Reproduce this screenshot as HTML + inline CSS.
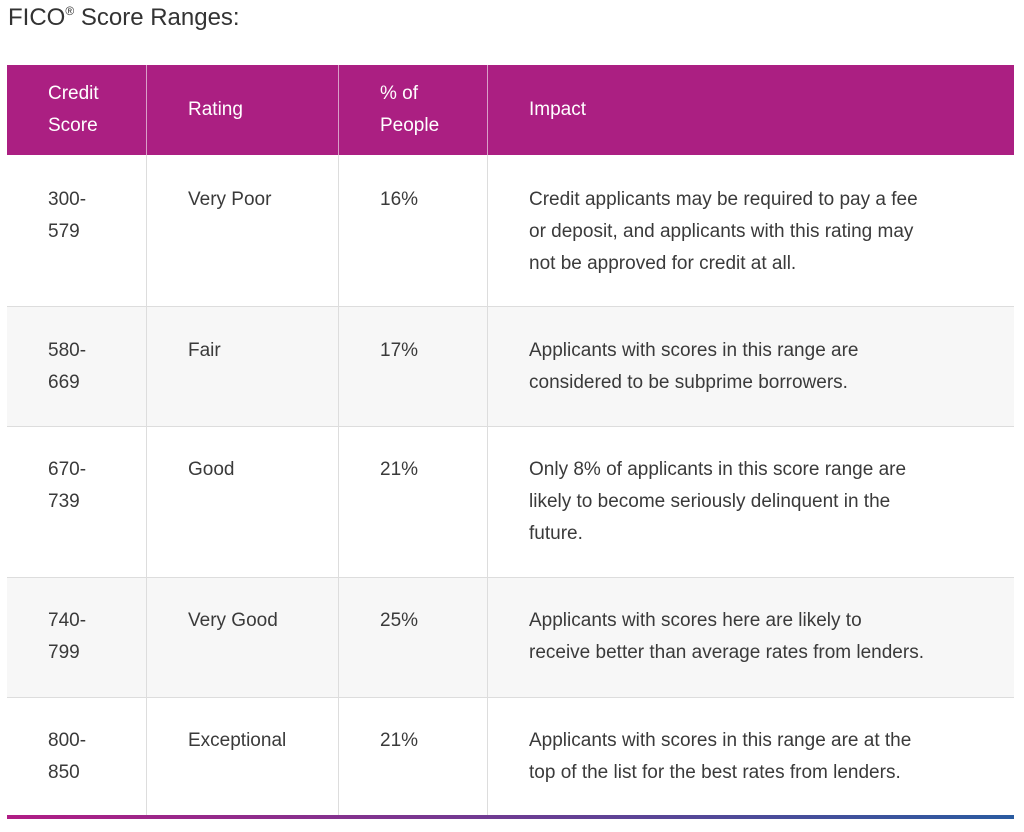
<!DOCTYPE html>
<html><head><meta charset="utf-8"><style>
body{margin:0;width:1024px;height:832px;background:#fff;font-family:"Liberation Sans",sans-serif;color:#3a3a3a;position:relative;overflow:hidden}
.t{position:absolute;left:8px;top:4px;font-size:24px;color:#333}
.t sup{font-size:12px;vertical-align:10px}
.tbl{position:absolute;left:7px;top:65px;width:1007px}
.row{position:absolute;left:0;width:1007px;border-bottom:1px solid #ddd}
.c{position:absolute;top:0;height:100%;box-sizing:border-box;font-size:19px;line-height:32px;white-space:nowrap}
.c+.c{border-left:1px solid #ddd}
.h{background:#ab1f82;color:#fff;border-bottom:none}
.h .c{border-color:#d9a0c8}
.bar{position:absolute;left:7px;top:815px;width:1007px;height:4px;background:linear-gradient(90deg,#b01d85,#2a5ba0)}
</style></head><body>
<div class="t">FICO<sup>®</sup> Score Ranges:</div>
<div class="tbl">
 <div class="row h" style="top:0;height:90px">
  <div class="c" style="left:0;width:139px;padding:13px 0 0 41px">Credit<br>Score</div>
  <div class="c" style="left:139px;width:192px;padding:29px 0 0 41px">Rating</div>
  <div class="c" style="left:331px;width:149px;padding:13px 0 0 41px">% of<br>People</div>
  <div class="c" style="left:480px;width:527px;padding:29px 0 0 41px">Impact</div>
 </div>
 <div class="row" style="top:90px;height:151px;background:#fff">
  <div class="c" style="left:0;width:139px;padding:29px 0 0 41px">300-<br>579</div>
  <div class="c" style="left:139px;width:192px;padding:29px 0 0 41px">Very Poor</div>
  <div class="c" style="left:331px;width:149px;padding:29px 0 0 41px">16%</div>
  <div class="c" style="left:480px;width:527px;padding:29px 0 0 41px">Credit applicants may be required to pay a fee<br>or deposit, and applicants with this rating may<br>not be approved for credit at all.</div>
 </div>
 <div class="row" style="top:242px;height:119px;background:#f7f7f7">
  <div class="c" style="left:0;width:139px;padding:28px 0 0 41px">580-<br>669</div>
  <div class="c" style="left:139px;width:192px;padding:28px 0 0 41px">Fair</div>
  <div class="c" style="left:331px;width:149px;padding:28px 0 0 41px">17%</div>
  <div class="c" style="left:480px;width:527px;padding:28px 0 0 41px">Applicants with scores in this range are<br>considered to be subprime borrowers.</div>
 </div>
 <div class="row" style="top:362px;height:150px;background:#fff">
  <div class="c" style="left:0;width:139px;padding:27px 0 0 41px">670-<br>739</div>
  <div class="c" style="left:139px;width:192px;padding:27px 0 0 41px">Good</div>
  <div class="c" style="left:331px;width:149px;padding:27px 0 0 41px">21%</div>
  <div class="c" style="left:480px;width:527px;padding:27px 0 0 41px">Only 8% of applicants in this score range are<br>likely to become seriously delinquent in the<br>future.</div>
 </div>
 <div class="row" style="top:513px;height:119px;background:#f7f7f7">
  <div class="c" style="left:0;width:139px;padding:27px 0 0 41px">740-<br>799</div>
  <div class="c" style="left:139px;width:192px;padding:27px 0 0 41px">Very Good</div>
  <div class="c" style="left:331px;width:149px;padding:27px 0 0 41px">25%</div>
  <div class="c" style="left:480px;width:527px;padding:27px 0 0 41px">Applicants with scores here are likely to<br>receive better than average rates from lenders.</div>
 </div>
 <div class="row" style="top:633px;height:117px;background:#fff;border-bottom:none">
  <div class="c" style="left:0;width:139px;padding:27px 0 0 41px">800-<br>850</div>
  <div class="c" style="left:139px;width:192px;padding:27px 0 0 41px">Exceptional</div>
  <div class="c" style="left:331px;width:149px;padding:27px 0 0 41px">21%</div>
  <div class="c" style="left:480px;width:527px;padding:27px 0 0 41px">Applicants with scores in this range are at the<br>top of the list for the best rates from lenders.</div>
 </div>
</div>
<div class="bar"></div>
</body></html>
